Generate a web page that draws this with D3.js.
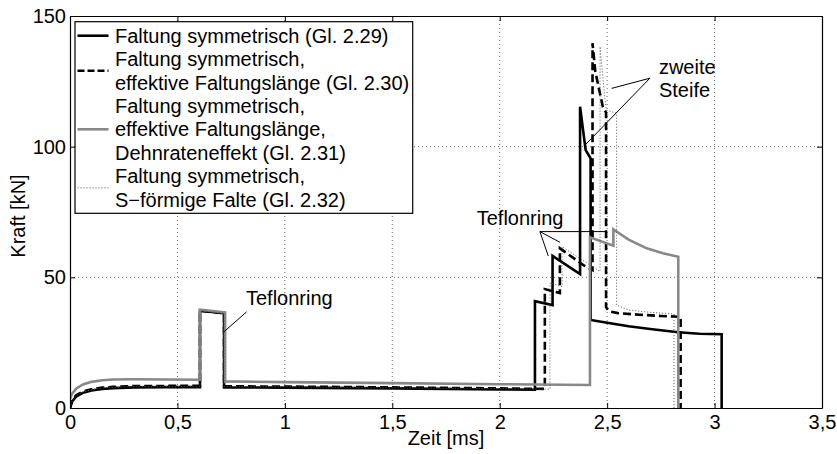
<!DOCTYPE html>
<html>
<head>
<meta charset="utf-8">
<script src="https://cdn.jsdelivr.net/npm/d3@7"></script>
<style>
  body { margin: 0; background: #fff; }
  svg { display: block; }
  text { font-family: "Liberation Sans", Arial, Helvetica, sans-serif; fill: #000; }
</style>
</head>
<body>
<svg id="chart" width="837" height="454"></svg>
<script>
// Axis ticks
const xTicks = [0, 0.5, 1, 1.5, 2, 2.5, 3, 3.5];
const yTicks = [0, 50, 100, 150];

// Faltung symmetrisch (Gl. 2.29) – time [ms], force [kN]
const tSym = [0, 0.01, 0.03, 0.06, 0.1, 0.15, 0.2, 0.3, 0.45, 0.605, 0.605, 0.717, 0.717, 1.0, 1.5, 2.0, 2.164, 2.164, 2.246, 2.246, 2.374, 2.374, 2.40, 2.423, 2.423, 2.5, 2.6, 2.7, 2.83, 2.93, 3.033, 3.033];
const fSym = [0, 2.5, 4.5, 5.8, 6.7, 7.3, 7.6, 7.9, 8.0, 8.0, 37.2, 36.3, 7.9, 7.8, 7.5, 7.1, 7.0, 40.9, 39.4, 58.2, 51.2, 115.3, 98.7, 95.5, 33.7, 32.6, 31.3, 30.2, 29.0, 28.4, 28.2, 0];

// Faltung symmetrisch, effektive Faltungslänge (Gl. 2.30)
const tEff = [0, 0.01, 0.03, 0.06, 0.1, 0.15, 0.2, 0.3, 0.605, 0.605, 0.717, 0.717, 1.0, 1.5, 2.0, 2.21, 2.21, 2.28, 2.28, 2.389, 2.432, 2.432, 2.445, 2.48, 2.495, 2.495, 2.51, 2.55, 2.65, 2.75, 2.842, 2.842];
const fEff = [0, 3.0, 5.0, 6.3, 7.2, 7.8, 8.1, 8.4, 8.5, 37.2, 36.3, 8.3, 8.2, 7.9, 7.5, 7.3, 45.5, 44.0, 61.1, 54.7, 52.8, 139.6, 128.7, 115.3, 113.0, 38.5, 37.0, 36.3, 35.7, 35.2, 34.9, 0];

// Faltung symmetrisch, effektive Faltungslänge, Dehnrateneffekt (Gl. 2.31)
const tRate = [0, 0.01, 0.03, 0.06, 0.1, 0.15, 0.2, 0.3, 0.605, 0.605, 0.722, 0.722, 1.0, 1.5, 2.0, 2.42, 2.42, 2.529, 2.529, 2.6, 2.684, 2.76, 2.831, 2.831];
const fRate = [3.5, 5.5, 7.5, 9.0, 10.0, 10.6, 10.9, 11.0, 10.8, 37.6, 36.6, 10.2, 9.9, 9.5, 9.1, 8.8, 65.3, 62.1, 68.3, 64.4, 61.1, 59.2, 57.9, 0];

// Faltung symmetrisch, S-förmige Falte (Gl. 2.32)
const tSFold = [0, 0.01, 0.03, 0.06, 0.1, 0.15, 0.2, 0.3, 0.605, 0.605, 0.717, 0.717, 1.0, 1.5, 2.0, 2.234, 2.234, 2.29, 2.29, 2.467, 2.467, 2.49, 2.497, 2.544, 2.544, 2.6, 2.7, 2.811, 2.811];
const fSFold = [0, 2.8, 4.8, 6.1, 7.0, 7.6, 7.9, 8.2, 8.3, 37.2, 36.3, 8.2, 8.1, 7.7, 7.4, 7.2, 47.8, 46.5, 61.7, 52.2, 138.3, 117.9, 114.0, 112.8, 39.4, 37.5, 36.6, 36.0, 0];

const legendLabels = [
  ["Faltung symmetrisch (Gl. 2.29)"],
  ["Faltung symmetrisch,", "effektive Faltungslänge (Gl. 2.30)"],
  ["Faltung symmetrisch,", "effektive Faltungslänge,", "Dehnrateneffekt (Gl. 2.31)"],
  ["Faltung symmetrisch,", "S\u2212förmige Falte (Gl. 2.32)"]
];

// Annotations: text anchor (t, F) and pointer lines from (t0,F0) to (t1,F1)
const noteTexts = [
  { lines: ["Teflonring"], t: 0.819, f: 39.4 },
  { lines: ["Teflonring"], t: 1.893, f: 70.0 },
  { lines: ["zweite", "Steife"], t: 2.741, f: 127.8 }
];
const notePointers = [
  [0.822, 36.8, 0.717, 29.2],
  [2.187, 67.5, 2.281, 63.4],
  [2.187, 67.5, 2.226, 58.2],
  [2.187, 67.5, 2.499, 67.5],
  [2.699, 126.2, 2.521, 122.3],
  [2.699, 126.2, 2.397, 100.6]
];

const svg = d3.select("#chart");
const plot = { left: 70, right: 822, top: 16, bottom: 408 };
const x = d3.scaleLinear().domain([0, 3.5]).range([plot.left, plot.right]);
const y = d3.scaleLinear().domain([0, 150]).range([plot.bottom, plot.top]);
const fmt = d => String(d).replace(".", ",");

// Grid
const grid = svg.append("g").attr("stroke", "#444").attr("stroke-width", 0.8).attr("stroke-dasharray", "1,3");
grid.selectAll("line.gx").data(xTicks.slice(1, -1)).join("line")
  .attr("x1", d => x(d)).attr("x2", d => x(d)).attr("y1", plot.top).attr("y2", plot.bottom);
grid.selectAll("line.gy").data(yTicks.slice(1, -1)).join("line")
  .attr("x1", plot.left).attr("x2", plot.right).attr("y1", d => y(d)).attr("y2", d => y(d));

// Series
svg.append("clipPath").attr("id", "clip").append("rect")
  .attr("x", plot.left).attr("y", plot.top).attr("width", plot.right - plot.left).attr("height", plot.bottom - plot.top);
const line = d3.line().x(d => x(d[0])).y(d => y(d[1]));
const series = [
  { t: tSym, f: fSym, stroke: "#000", width: 2.6, dash: null },
  { t: tEff, f: fEff, stroke: "#000", width: 2.6, dash: "8,4" },
  { t: tRate, f: fRate, stroke: "#888", width: 2.6, dash: null },
  { t: tSFold, f: fSFold, stroke: "#555", width: 1, dash: "1,2" }
];
const gSeries = svg.append("g").attr("clip-path", "url(#clip)");
series.forEach(s => {
  gSeries.append("path")
    .datum(s.t.map((t, i) => [t, s.f[i]]))
    .attr("d", line).attr("fill", "none")
    .attr("stroke", s.stroke).attr("stroke-width", s.width)
    .attr("stroke-dasharray", s.dash).attr("stroke-linejoin", "miter");
});

// Axes with inward ticks
const axisStyle = g => {
  g.selectAll("path.domain").attr("stroke", "#000").attr("stroke-width", 1.2);
  g.selectAll(".tick line").attr("stroke", "#000").attr("stroke-width", 1);
  g.selectAll("text").attr("font-size", 20).attr("fill", "#000")
    .attr("font-family", "'Liberation Sans', Arial, sans-serif");
};
svg.append("g").attr("transform", `translate(0,${plot.bottom})`)
  .call(d3.axisBottom(x).tickValues(xTicks).tickFormat(fmt).tickSizeInner(-5).tickSizeOuter(0).tickPadding(7))
  .call(axisStyle);
svg.append("g").attr("transform", `translate(0,${plot.top})`)
  .call(d3.axisTop(x).tickValues(xTicks).tickFormat("").tickSizeInner(-5).tickSizeOuter(0))
  .call(axisStyle);
svg.append("g").attr("transform", `translate(${plot.left},0)`)
  .call(d3.axisLeft(y).tickValues(yTicks).tickFormat(fmt).tickSizeInner(-5).tickSizeOuter(0).tickPadding(4))
  .call(axisStyle);
svg.append("g").attr("transform", `translate(${plot.right},0)`)
  .call(d3.axisRight(y).tickValues(yTicks).tickFormat("").tickSizeInner(-5).tickSizeOuter(0))
  .call(axisStyle);
svg.selectAll(".domain").attr("fill", "none");

// Axis titles
svg.append("text").attr("x", (plot.left + plot.right) / 2).attr("y", 445)
  .attr("text-anchor", "middle").attr("font-size", 20).text("Zeit [ms]");
svg.append("text").attr("transform", "translate(25,216) rotate(-90)")
  .attr("text-anchor", "middle").attr("font-size", 20).text("Kraft [kN]");

// Annotations
const gNote = svg.append("g");
gNote.selectAll("line").data(notePointers).join("line")
  .attr("x1", d => x(d[0])).attr("y1", d => y(d[1]))
  .attr("x2", d => x(d[2])).attr("y2", d => y(d[3]))
  .attr("stroke", "#000").attr("stroke-width", 1);
noteTexts.forEach(n => {
  const tx = gNote.append("text").attr("x", x(n.t)).attr("y", y(n.f)).attr("font-size", 20);
  n.lines.forEach((l, i) => tx.append("tspan").attr("x", x(n.t)).attr("dy", i === 0 ? 0 : 23).text(l));
});

// Legend
const lg = svg.append("g");
lg.append("rect").attr("x", 75).attr("y", 21.7).attr("width", 337.7).attr("height", 191.6)
  .attr("fill", "#fff").attr("stroke", "#000").attr("stroke-width", 1.2);
let row = 0;
const lineH = 23.4, firstBase = 42.7;
legendLabels.forEach((labels, k) => {
  const s = series[k];
  const midY = firstBase + (row + (labels.length - 1) / 2) * lineH - 7;
  lg.append("line").attr("x1", 77.5).attr("x2", 108.5).attr("y1", midY).attr("y2", midY)
    .attr("stroke", s.stroke).attr("stroke-width", s.width).attr("stroke-dasharray", s.dash ? (k === 1 ? "7,3" : s.dash) : null);
  labels.forEach((l, i) => {
    lg.append("text").attr("x", 115).attr("y", firstBase + (row + i) * lineH)
      .attr("font-size", 20).text(l);
  });
  row += labels.length;
});
</script>
</body>
</html>
